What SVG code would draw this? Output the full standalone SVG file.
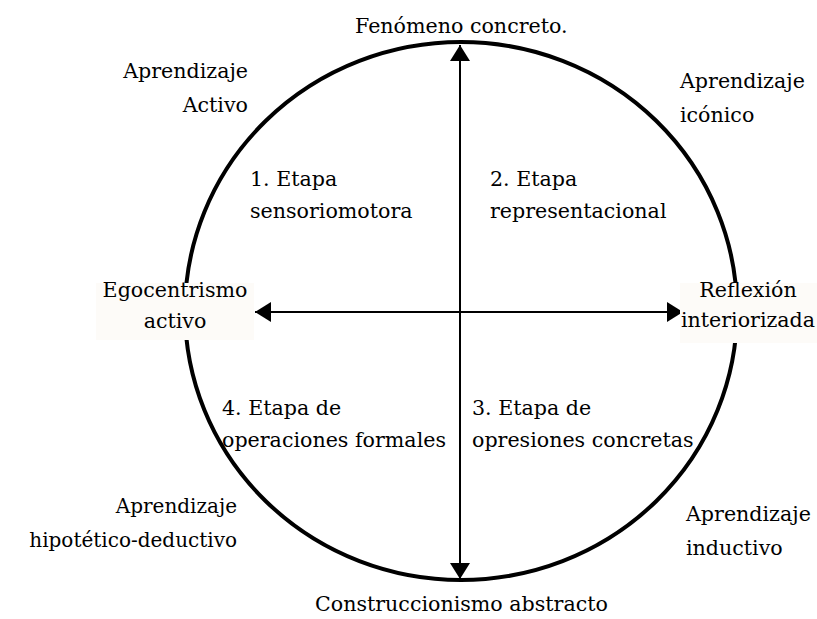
<svg xmlns="http://www.w3.org/2000/svg" width="817" height="619" viewBox="0 0 817 619">
<style>
text{font-family:'DejaVu Serif','Liberation Serif',serif;font-size:20.6px;fill:#000}
.sm{font-size:20px}
.c{fill:none;stroke:#000;stroke-width:4}
.ax{stroke:#000;stroke-width:2;fill:none}
.bg{fill:#fdfbf8;stroke:none}
</style>
<defs>
<marker id="ah" markerUnits="userSpaceOnUse" viewBox="0 0 16 20" refX="16" refY="10" markerWidth="16" markerHeight="20" orient="auto-start-reverse">
<path d="M0,0 L16,10 L0,20 Z" fill="#000"/>
</marker>
</defs>
<rect width="817" height="619" fill="#fff"/>
<g id="circle"><ellipse class="c" cx="461" cy="311" rx="276" ry="269"/></g>
<g id="connectors">
<line class="ax" x1="460" y1="45" x2="460" y2="579" marker-start="url(#ah)" marker-end="url(#ah)"/>
<line class="ax" x1="255" y1="312" x2="683" y2="312" marker-start="url(#ah)" marker-end="url(#ah)"/>
</g>
<g id="top"><text x="355" y="33">Fenómeno concreto.</text></g>
<g id="bottom"><text x="315" y="611">Construccionismo abstracto</text></g>
<g id="left"><rect class="bg" x="96" y="283" width="158" height="57"/><text x="175" y="297" text-anchor="middle">Egocentrismo</text><text x="175" y="328" text-anchor="middle">activo</text></g>
<g id="right"><rect class="bg" x="680" y="283" width="137" height="60"/><text x="748" y="297" text-anchor="middle">Reflexión</text><text x="748" y="327" text-anchor="middle">interiorizada</text></g>
<g id="ap-activo"><text x="248" y="78" text-anchor="end">Aprendizaje</text><text x="248" y="112" text-anchor="end">Activo</text></g>
<g id="ap-iconico"><text x="680" y="88">Aprendizaje</text><text x="680" y="122">icónico</text></g>
<g id="ap-hipotetico"><text class="sm" x="237" y="513" text-anchor="end">Aprendizaje</text><text class="sm" x="237" y="547" text-anchor="end">hipotético-deductivo</text></g>
<g id="ap-inductivo"><text x="686" y="521">Aprendizaje</text><text x="686" y="555">inductivo</text></g>
<g id="etapa1"><text x="250" y="186">1. Etapa</text><text x="250" y="218">sensoriomotora</text></g>
<g id="etapa2"><text x="490" y="186">2. Etapa</text><text x="490" y="218">representacional</text></g>
<g id="etapa4"><text x="222" y="415">4. Etapa de</text><text x="222" y="447">operaciones formales</text></g>
<g id="etapa3"><text x="472" y="415">3. Etapa de</text><text x="472" y="447">opresiones concretas</text></g>
</svg>
